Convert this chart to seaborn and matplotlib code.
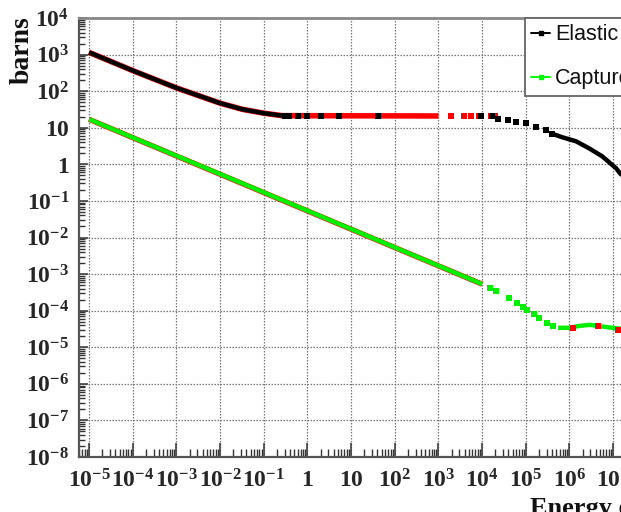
import matplotlib
matplotlib.use("Agg")
import matplotlib.pyplot as plt
import numpy as np
import pandas as pd
import seaborn as sns
from matplotlib.lines import Line2D
from matplotlib.ticker import FixedLocator, FixedFormatter, LogLocator, NullFormatter
from matplotlib import font_manager

# ---------------- data ----------------
# Elastic, black, dense part (low energy)
el_low_E = [1e-5, 1e-4, 1e-3, 1e-2, 0.032, 0.1, 0.26]
el_low_S = [1150, 365, 123, 47, 32, 25, 21.4]
# Elastic, black, sparse points on the plateau
el_plat_E = [0.3, 0.38, 0.6, 0.98, 2.0, 5.2, 41]
el_plat_S = [21, 21, 21, 21, 21, 21, 21]
# Elastic, black, sparse points in keV region
el_kev_E = [9.3e3, 1.66e4, 2.29e4, 3.9e4, 5.9e4, 1.0e5, 1.7e5, 2.9e5, 4.0e5]
el_kev_S = [20.4, 20.4, 17.8, 15.8, 14.8, 13.2, 10.2, 8.5, 6.9]
# Elastic, black, dense part (MeV region)
el_high_E = [4.0e5, 6.8e5, 1.41e6, 2.8e6, 5.6e6, 1.17e7, 1.45e7, 2.0e7]
el_high_S = [6.9, 5.5, 4.27, 2.75, 1.66, 0.78, 0.56, 0.40]
# Elastic, red comparison data
el_red_E = [1e-5, 1e-4, 1e-3, 1e-2, 0.032, 0.1, 0.26, 1e3]
el_red_S = [1150, 365, 123, 47, 32, 25, 21.4, 21]
el_red_pts_E = [1.9e3, 3.8e3, 5.7e3, 8.3e3, 1.6e4, 2.0e4]
el_red_pts_S = [20.6, 20.6, 20.6, 20.6, 20.6, 20.6]

# Capture, green, dense part (1/v)
ca_low_E = [1e-5, 1e-2, 25, 1e4]
ca_low_S = [17, 0.54, 0.0107, 5.3e-4]
# Capture, green, sparse points
ca_mid_E = [1.51e4, 2.04e4, 4.07e4, 6.17e4, 8.5e4, 1.05e5, 1.51e5, 2.0e5, 3.0e5, 4.17e5]
ca_mid_S = [4.27e-4, 3.55e-4, 2.29e-4, 1.66e-4, 1.29e-4, 1.07e-4, 8.3e-5, 6.5e-5, 4.7e-5, 3.9e-5]
# Capture, green, dense part (MeV)
ca_high_E = [5.5e5, 1.0e6, 1.6e6, 2.9e6, 6.5e6, 1.45e7, 2.0e7]
ca_high_S = [3.4e-5, 3.4e-5, 3.8e-5, 4.1e-5, 3.6e-5, 3.2e-5, 3.1e-5]
# Capture, red comparison data
ca_red_E = [1e-5, 1e4]
ca_red_S = [17, 5.3e-4]
ca_red_pts_E = [1.2e6, 4.5e6, 1.26e7]
ca_red_pts_S = [3.4e-5, 3.7e-5, 3.0e-5]

x_major = [1e-5, 1e-4, 1e-3, 1e-2, 1e-1, 1, 10, 1e2, 1e3, 1e4, 1e5, 1e6, 1e7]
x_labels = [r"$10^{-5}$", r"$10^{-4}$", r"$10^{-3}$", r"$10^{-2}$", r"$10^{-1}$", r"$1$",
            r"$10$", r"$10^{2}$", r"$10^{3}$", r"$10^{4}$", r"$10^{5}$", r"$10^{6}$", r"$10^{7}$"]
y_major = [1e-8, 1e-7, 1e-6, 1e-5, 1e-4, 1e-3, 1e-2, 1e-1, 1, 10, 1e2, 1e3, 1e4]
y_labels = [r"$10^{-8}$", r"$10^{-7}$", r"$10^{-6}$", r"$10^{-5}$", r"$10^{-4}$", r"$10^{-3}$",
            r"$10^{-2}$", r"$10^{-1}$", r"$1$", r"$10$", r"$10^{2}$", r"$10^{3}$", r"$10^{4}$"]
legend_labels = ["Elastic", "Capture"]

# ---------------- style ----------------
sns.set_theme(style="white")
plt.rcParams["font.family"] = ["Liberation Sans", "DejaVu Sans"]
plt.rcParams["mathtext.fontset"] = "custom"
plt.rcParams["mathtext.rm"] = "Liberation Serif:bold"
plt.rcParams["mathtext.it"] = "Liberation Serif:bold"
plt.rcParams["mathtext.bf"] = "Liberation Serif:bold"
plt.rcParams["axes.unicode_minus"] = True

_names = {f.name for f in font_manager.fontManager.ttflist}
LEG_FONT = "Liberation Sans Narrow" if "Liberation Sans Narrow" in _names else "Liberation Sans"
LEG_SIZE = 18 if LEG_FONT == "Liberation Sans Narrow" else 15.5

W, H = 621, 512
fig = plt.figure(figsize=(W / 100, H / 100), dpi=100)
fig.patch.set_facecolor("white")
ax = fig.add_axes([79 / W, 55 / H, 556 / W, 439 / H])
ax.set_facecolor("white")

RED = "#ff0000"
GREEN = "#00f000"
BLACK = "#000000"
LW = 3.2
MS = 14


def line(E, S, color, lw=LW, z=2):
    df = pd.DataFrame({"E": E, "S": S})
    sns.lineplot(data=df, x="E", y="S", ax=ax, color=color, lw=lw, sort=False,
                 estimator=None, legend=False, zorder=z, solid_capstyle="butt")


def pts(E, S, color, z=3):
    df = pd.DataFrame({"E": E, "S": S})
    sns.scatterplot(data=df, x="E", y="S", ax=ax, color=color, marker="s", s=MS,
                    linewidth=0, legend=False, zorder=z)


ax.set_xscale("log")
ax.set_yscale("log")

# red comparison data underneath
line(el_red_E, el_red_S, RED, lw=LW + 0.8, z=2)
pts(el_red_pts_E, el_red_pts_S, RED, z=2)
line(ca_red_E, ca_red_S, RED, lw=LW + 0.6, z=2)
pts(ca_red_pts_E, ca_red_pts_S, RED, z=4)

# elastic
line(el_low_E, el_low_S, BLACK, z=3)
pts(el_plat_E, el_plat_S, BLACK, z=3)
pts(el_kev_E, el_kev_S, BLACK, z=3)
line(el_high_E, el_high_S, BLACK, z=3)

# capture
line(ca_low_E, ca_low_S, GREEN, z=3)
pts(ca_mid_E, ca_mid_S, GREEN, z=3)
line(ca_high_E, ca_high_S, GREEN, z=3)

ax.set_xlim(10 ** -5.229, 10 ** 7.5)
ax.set_ylim(1e-8, 1e4)
ax.set_xlabel("")
ax.set_ylabel("")

ax.xaxis.set_major_locator(FixedLocator(x_major))
ax.xaxis.set_major_formatter(FixedFormatter(x_labels))
ax.yaxis.set_major_locator(FixedLocator(y_major))
ax.yaxis.set_major_formatter(FixedFormatter(y_labels))
ax.xaxis.set_minor_locator(LogLocator(base=10, subs=np.arange(2, 10), numticks=100))
ax.yaxis.set_minor_locator(LogLocator(base=10, subs=np.arange(2, 10), numticks=100))
ax.xaxis.set_minor_formatter(NullFormatter())
ax.yaxis.set_minor_formatter(NullFormatter())

ax.tick_params(axis="x", which="major", direction="in", length=10, width=1.1,
               color="#333333", labelsize=17, pad=9, top=False, bottom=True)
ax.tick_params(axis="x", which="minor", direction="in", length=5.5, width=1.0,
               color="#333333", top=False, bottom=True)
ax.tick_params(axis="y", which="major", direction="in", length=6.5, width=1.1,
               color="#333333", labelsize=17, pad=7, left=True, right=False)
ax.tick_params(axis="y", which="minor", direction="in", length=4, width=1.0,
               color="#333333", left=True, right=False)

ax.grid(True, which="major", axis="both", linestyle=(0, (1.2, 1.2)), color="#777777", lw=0.9)
ax.set_axisbelow(True)

for side in ["left", "bottom"]:
    ax.spines[side].set_color("#555555")
    ax.spines[side].set_linewidth(1.6)
ax.spines["top"].set_color("#888888")
ax.spines["top"].set_linewidth(2.0)
ax.spines["right"].set_color("#888888")
ax.spines["right"].set_linewidth(2.0)

# axis titles
fig.text(22 / W, 1 - 16 / H, r"barns", rotation=90, ha="center", va="top",
         fontsize=20, fontfamily="Liberation Serif", fontweight="bold", color="#111111")
fig.text(530 / W, 1 - 497 / H, "Energy eV", ha="left", va="top",
         fontsize=19, fontfamily="Liberation Serif", fontweight="bold", color="#111111")

# legend
handles = [
    Line2D([], [], color=BLACK, lw=1.4, marker="s", markersize=3.2),
    Line2D([], [], color="#00ff00", lw=1.4, marker="s", markersize=3.2),
]
leg = ax.legend(handles, legend_labels, loc="upper left",
                bbox_to_anchor=(525 / W, 1 - 18 / H), bbox_transform=fig.transFigure,
                borderaxespad=0, frameon=True, fancybox=False, framealpha=1,
                edgecolor="#666666", handlelength=0.85, handletextpad=0.25,
                borderpad=0.3, labelspacing=1.05, prop={"family": LEG_FONT, "size": LEG_SIZE})
leg.get_frame().set_linewidth(1.3)
for t in leg.get_texts():
    t.set_color("#111111")

fig.savefig("out.png", dpi=100, facecolor="white")
